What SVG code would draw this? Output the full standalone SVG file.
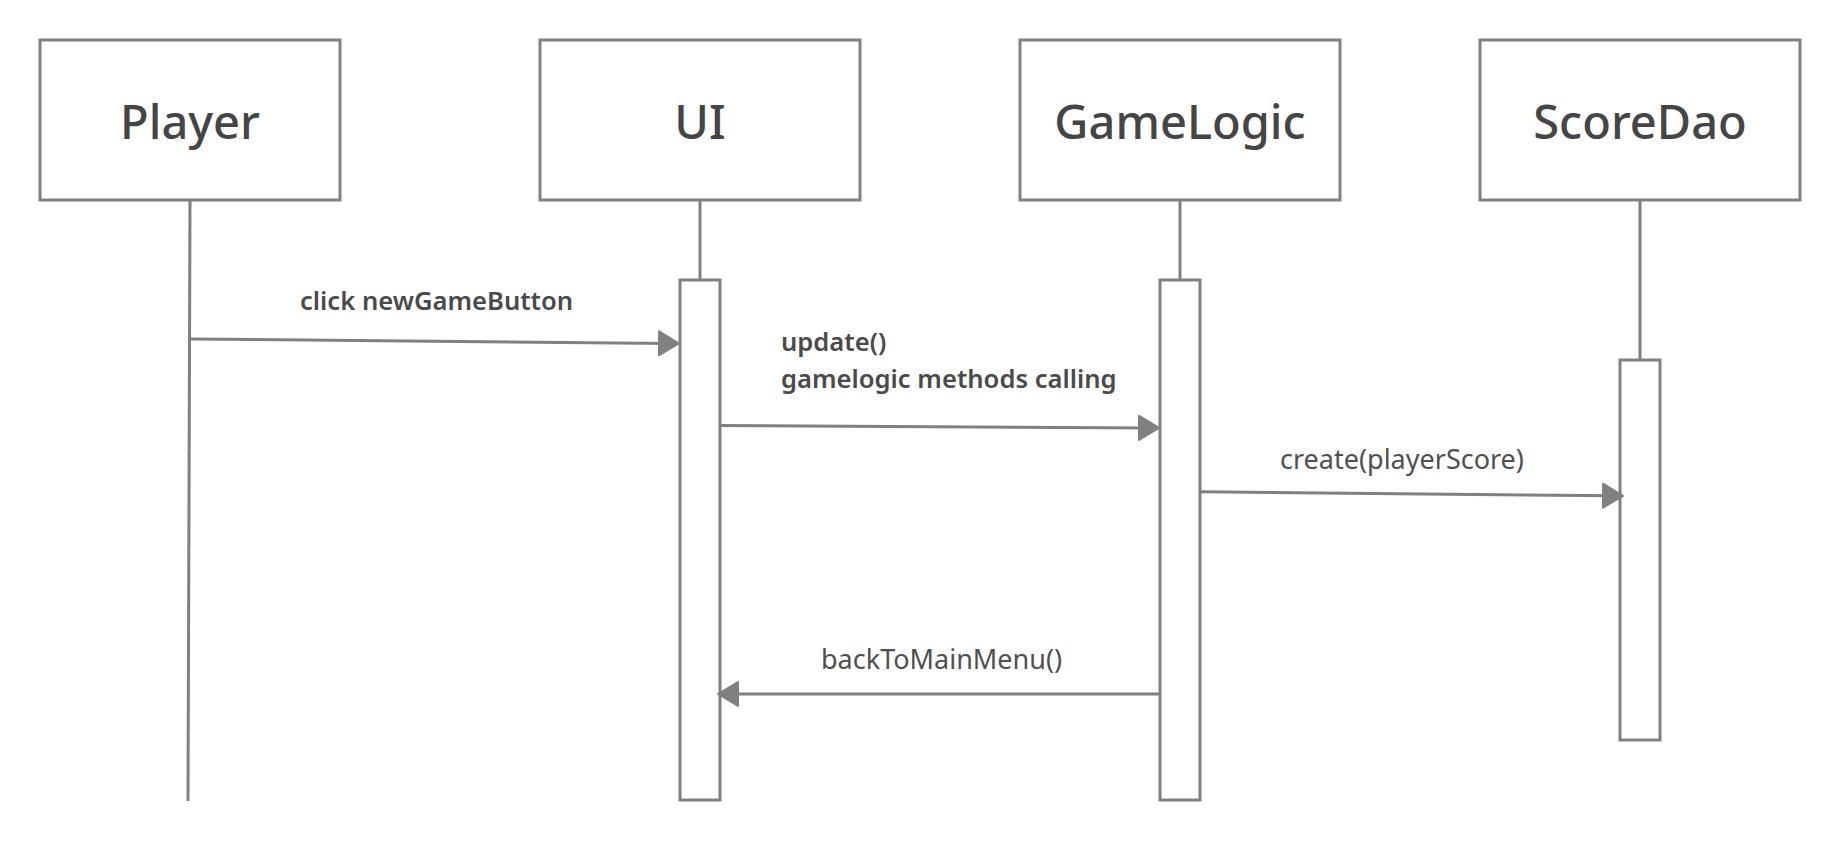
<svg xmlns="http://www.w3.org/2000/svg" width="1840" height="841" viewBox="0 0 1840 841">
<defs>
<marker id="arr" viewBox="0 0 22 26" refX="12" refY="13" markerWidth="22" markerHeight="26" markerUnits="userSpaceOnUse" orient="auto">
<path d="M1,1 L21,13 L1,25 z" fill="#808080" stroke="#808080" stroke-width="2" stroke-linejoin="round"/>
</marker>
</defs>
<style>
.box{fill:#fff;stroke:#808080;stroke-width:3}
.life{stroke:#808080;stroke-width:3;fill:none}
.act{fill:#fff;stroke:#808080;stroke-width:3}
.title{font-family:"Noto Sans","Open Sans",sans-serif;font-size:47px;font-weight:500;fill:#454545;text-anchor:middle}
.msg{stroke:#808080;stroke-width:3;fill:none;marker-end:url(#arr)}
.lbl{font-family:"Noto Sans","Open Sans",sans-serif;font-size:27px;fill:#505050}
.lblb{font-family:"Noto Sans","Open Sans",sans-serif;font-size:25.6px;font-weight:600;fill:#4a4a4a}
</style>
<rect width="1840" height="841" fill="#fff"/>
<g id="player">
<rect class="box" x="40" y="40" width="300" height="160"/>
<text class="title" x="190" y="139">Player</text>
<line class="life" x1="190" y1="200" x2="188" y2="801"/>
</g>
<g id="ui">
<rect class="box" x="540" y="40" width="320" height="160"/>
<text class="title" x="700" y="139">UI</text>
<line class="life" x1="700" y1="200" x2="700" y2="280"/>
<rect class="act" x="680" y="280" width="40" height="520"/>
</g>
<g id="gamelogic">
<rect class="box" x="1020" y="40" width="320" height="160"/>
<text class="title" x="1180" y="139">GameLogic</text>
<line class="life" x1="1180" y1="200" x2="1180" y2="280"/>
<rect class="act" x="1160" y="280" width="40" height="520"/>
</g>
<g id="scoredao">
<rect class="box" x="1480" y="40" width="320" height="160"/>
<text class="title" x="1640" y="139">ScoreDao</text>
<line class="life" x1="1640" y1="200" x2="1640" y2="360"/>
<rect class="act" x="1620" y="360" width="40" height="380"/>
</g>
<g id="connectors">
<path class="msg" d="M190,339 L670,343.4"/>
<text class="lblb" x="300" y="310">click newGameButton</text>
<path class="msg" d="M720,425.5 L1150,427.9"/>
<text class="lblb" x="781" y="351">update()</text>
<text class="lblb" x="781" y="388">gamelogic methods calling</text>
<path class="msg" d="M1201,491.7 L1614,495.8"/>
<text class="lbl" x="1280" y="469">create(playerScore)</text>
<path class="msg" d="M1160,694 L727,694"/>
<text class="lbl" x="821" y="669">backToMainMenu()</text>
</g>
</svg>
